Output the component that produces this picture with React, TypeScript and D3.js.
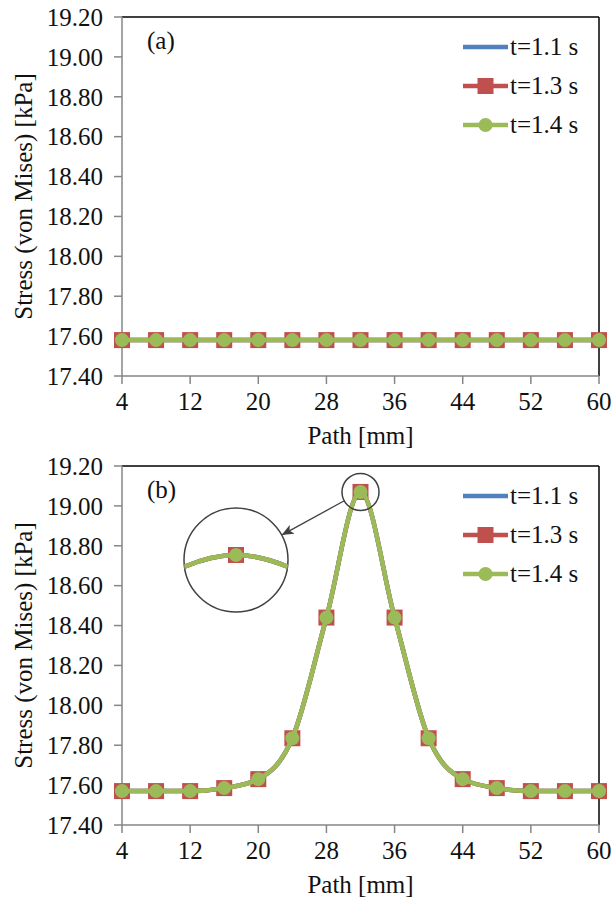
import React from 'react';
import * as d3 from 'd3';

// path positions along the sample [mm]
const pathMm = [4, 8, 12, 16, 20, 24, 28, 32, 36, 40, 44, 48, 52, 56, 60];

// (a) stress [kPa] along the path
const stressA_t11 = [17.58, 17.58, 17.58, 17.58, 17.58, 17.58, 17.58, 17.58, 17.58, 17.58, 17.58, 17.58, 17.58, 17.58, 17.58];
const stressA_t13 = [17.58, 17.58, 17.58, 17.58, 17.58, 17.58, 17.58, 17.58, 17.58, 17.58, 17.58, 17.58, 17.58, 17.58, 17.58];
const stressA_t14 = [17.58, 17.58, 17.58, 17.58, 17.58, 17.58, 17.58, 17.58, 17.58, 17.58, 17.58, 17.58, 17.58, 17.58, 17.58];

// (b) stress [kPa] along the path
const stressB_t11 = [17.57, 17.57, 17.57, 17.585, 17.63, 17.835, 18.44, 19.07, 18.44, 17.835, 17.63, 17.585, 17.57, 17.57, 17.57];
const stressB_t13 = [17.57, 17.57, 17.57, 17.585, 17.63, 17.835, 18.44, 19.07, 18.44, 17.835, 17.63, 17.585, 17.57, 17.57, 17.57];
const stressB_t14 = [17.57, 17.57, 17.57, 17.585, 17.63, 17.835, 18.44, 19.07, 18.44, 17.835, 17.63, 17.585, 17.57, 17.57, 17.57];

const seriesNames = ['t=1.1 s', 't=1.3 s', 't=1.4 s'];
const xTicks = [4, 12, 20, 28, 36, 44, 52, 60];
const yTicks = [17.4, 17.6, 17.8, 18.0, 18.2, 18.4, 18.6, 18.8, 19.0, 19.2];

const W = 614;
const H = 902;
const FONT = 'Liberation Serif, DejaVu Serif, serif';
const BLUE = '#4F81BD';
const RED = '#C0504D';
const GREEN = '#9BBB59';
const AXIS = '#868686';

const plotLeft = 122;
const plotRight = 599;
const plotH = 359;

type Pt = [number, number];

function Markers({ pts, kind }: { pts: Pt[]; kind: 'square' | 'circle' }) {
  return (
    <g>
      {pts.map(([px, py], i) =>
        kind === 'square' ? (
          <rect key={i} x={px - 8} y={py - 8} width={16} height={16} fill={RED} />
        ) : (
          <circle key={i} cx={px} cy={py} r={7} fill={GREEN} />
        )
      )}
    </g>
  );
}

function Series({ xs, s1, s2, s3, x, y }: any) {
  const line = d3
    .line<Pt>()
    .x((d) => d[0])
    .y((d) => d[1])
    .curve(d3.curveMonotoneX);
  const toPts = (vals: number[]): Pt[] => xs.map((v: number, i: number) => [x(v), y(vals[i])]);
  const p1 = toPts(s1);
  const p2 = toPts(s2);
  const p3 = toPts(s3);
  return (
    <g>
      <path d={line(p1) || ''} fill="none" stroke={BLUE} strokeWidth={4.5} />
      <path d={line(p2) || ''} fill="none" stroke={RED} strokeWidth={4.5} />
      <Markers pts={p2} kind="square" />
      <path d={line(p3) || ''} fill="none" stroke={GREEN} strokeWidth={4.5} />
      <Markers pts={p3} kind="circle" />
    </g>
  );
}

function Panel({ top, letter, s1, s2, s3, inset }: any) {
  const x = d3.scaleLinear().domain([4, 60]).range([plotLeft, plotRight]);
  const y = d3.scaleLinear().domain([17.4, 19.2]).range([top + plotH, top]);
  const fmt = d3.format('.2f');
  const bottom = top + plotH;

  let insetEl = null;
  if (inset) {
    const peakI = d3.maxIndex(s3);
    const px = x(pathMm[peakI]);
    const py = y(s3[peakI]);
    const rs = 18.5;
    const cx = 236;
    const cy = top + 94;
    const R = 52;
    const dx = cx - px;
    const dy = cy - py;
    const len = Math.hypot(dx, dy);
    const ux = dx / len;
    const uy = dy / len;
    const ax0 = px + ux * rs;
    const ay0 = py + uy * rs;
    const ax1 = cx - ux * (R + 1);
    const ay1 = cy - uy * (R + 1);
    const ix = d3.scaleLinear().domain([pathMm[peakI] - 1, pathMm[peakI] + 1]).range([cx - R, cx + R]);
    const iy = d3.scaleLinear().domain([s3[peakI] - 0.3, s3[peakI]]).range([cy - 5 + 51, cy - 5]);
    insetEl = (
      <g>
        <defs>
          <clipPath id="insetClip">
            <circle cx={cx} cy={cy} r={R} />
          </clipPath>
          <marker id="arrowHead" viewBox="0 0 12 10" refX={11} refY={5} markerWidth={12} markerHeight={10} markerUnits="userSpaceOnUse" orient="auto">
            <path d="M0,0 L12,5 L0,10 L3,5 Z" fill="#404040" />
          </marker>
        </defs>
        <circle cx={px} cy={py} r={rs} fill="none" stroke="#404040" strokeWidth={1.5} />
        <line x1={ax0} y1={ay0} x2={ax1} y2={ay1} stroke="#404040" strokeWidth={1.3} markerEnd="url(#arrowHead)" />
        <circle cx={cx} cy={cy} r={R} fill="#fff" stroke="#404040" strokeWidth={1.5} />
        <g clipPath="url(#insetClip)">
          <Series xs={pathMm} s1={s1} s2={s2} s3={s3} x={ix} y={iy} />
        </g>
      </g>
    );
  }

  return (
    <g fontFamily={FONT}>
      {/* frame: black top/right, grey axes */}
      <line x1={plotLeft} y1={top} x2={plotRight} y2={top} stroke="#000" strokeWidth={1.5} />
      <line x1={plotRight} y1={top} x2={plotRight} y2={bottom} stroke="#000" strokeWidth={1.5} />
      <line x1={plotLeft} y1={top} x2={plotLeft} y2={bottom} stroke={AXIS} strokeWidth={1.5} />
      <line x1={plotLeft} y1={bottom} x2={plotRight} y2={bottom} stroke={AXIS} strokeWidth={1.5} />

      {yTicks.map((t) => (
        <g key={t}>
          <line x1={plotLeft - 8} x2={plotLeft} y1={y(t)} y2={y(t)} stroke={AXIS} strokeWidth={1.5} />
          <text x={plotLeft - 19} y={y(t)} dy="0.35em" textAnchor="end" fontSize={25} fill="#111">
            {fmt(t)}
          </text>
        </g>
      ))}
      {xTicks.map((t) => (
        <g key={t}>
          <line x1={x(t)} x2={x(t)} y1={bottom} y2={bottom + 8} stroke={AXIS} strokeWidth={1.5} />
          <text x={x(t)} y={bottom + 34} textAnchor="middle" fontSize={25} fill="#111">
            {t}
          </text>
        </g>
      ))}

      <text transform={`translate(32,${(top + bottom) / 2}) rotate(-90)`} textAnchor="middle" fontSize={25} fill="#111">
        Stress (von Mises) [kPa]
      </text>
      <text x={(plotLeft + plotRight) / 2} y={top + 427} textAnchor="middle" fontSize={25} fill="#111">
        Path [mm]
      </text>
      <text x={147} y={top + 32} fontSize={25} fill="#111">
        {letter}
      </text>

      <Series xs={pathMm} s1={s1} s2={s2} s3={s3} x={x} y={y} />

      {insetEl}

      {/* legend */}
      {seriesNames.map((name, i) => {
        const ly = top + 30 + i * 39;
        const col = [BLUE, RED, GREEN][i];
        return (
          <g key={name}>
            <line x1={463} x2={508} y1={ly} y2={ly} stroke={col} strokeWidth={4.5} />
            {i === 1 && <rect x={485.5 - 8} y={ly - 8} width={16} height={16} fill={RED} />}
            {i === 2 && <circle cx={485.5} cy={ly} r={7} fill={GREEN} />}
            <text x={510} y={ly} dy="0.33em" fontSize={25} fill="#111">
              {name}
            </text>
          </g>
        );
      })}
    </g>
  );
}

export default function App() {
  return (
    <div style={{ position: 'absolute', left: 0, top: 0, background: '#fff' }}>
      <svg width={W} height={H} viewBox={`0 0 ${W} ${H}`}>
        <rect width={W} height={H} fill="#fff" />
        <Panel top={17} letter="(a)" s1={stressA_t11} s2={stressA_t13} s3={stressA_t14} inset={false} />
        <Panel top={466} letter="(b)" s1={stressB_t11} s2={stressB_t13} s3={stressB_t14} inset={true} />
      </svg>
    </div>
  );
}
